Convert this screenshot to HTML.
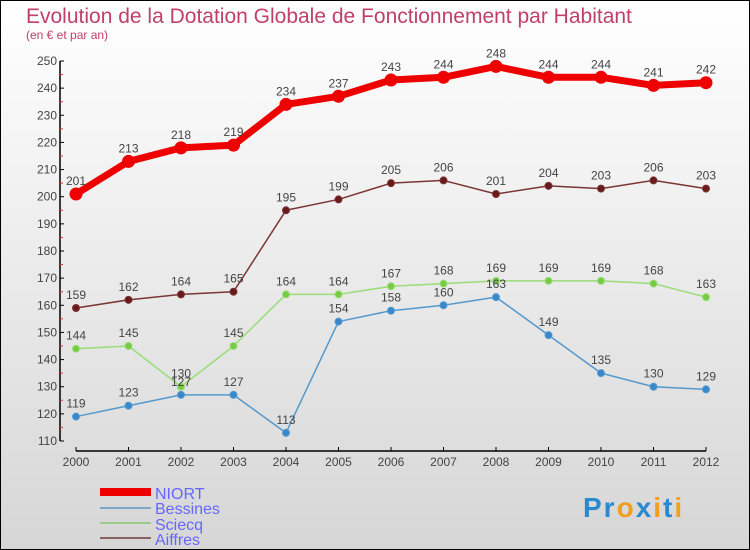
<!DOCTYPE html>
<html><head><meta charset="utf-8"><style>
body{margin:0}
#c{width:750px;height:550px;position:relative;overflow:hidden;background:linear-gradient(#ffffff,#d6d6d6);box-sizing:border-box;border:1px solid #000;font-family:"Liberation Sans",sans-serif}
</style></head><body>
<div id="c">
<svg width="750" height="550" style="position:absolute;left:-1px;top:-1px" id="svg">
<text x="26" y="23" font-size="21" fill="#c0406a">Evolution de la Dotation Globale de Fonctionnement par Habitant</text>
<text x="26" y="39" font-size="12" fill="#c0406a">(en € et par an)</text>
<g id="axes"></g><g id="series"></g>
<g>
<rect x="100" y="488" width="51" height="8" fill="#ee0000"/>
<text x="155" y="499" font-size="16" fill="#6666ff">NIORT</text>
<rect x="100" y="507" width="51" height="2" fill="#7fa7c7"/>
<text x="155" y="514" font-size="16" fill="#6666ff">Bessines</text>
<rect x="100" y="522" width="51" height="2" fill="#99cc88"/>
<text x="155" y="530" font-size="16" fill="#6666ff">Sciecq</text>
<rect x="100" y="537" width="51" height="2" fill="#8b6060"/>
<text x="155" y="545" font-size="16" fill="#6666ff">Aiffres</text>
</g>
<text x="583" y="517" font-size="28" font-weight="bold" letter-spacing="2"><tspan fill="#2a8ad0">Pr</tspan><tspan fill="#f0a020">o</tspan><tspan fill="#2a8ad0">x</tspan><tspan fill="#f0a020">i</tspan><tspan fill="#2a8ad0">t</tspan><tspan fill="#f0a020">i</tspan></text>
</svg>
</div>
<script>
const years=[2000,2001,2002,2003,2004,2005,2006,2007,2008,2009,2010,2011,2012];
const yTicks=[110,120,130,140,150,160,170,180,190,200,210,220,230,240,250];
const niort=[201,213,218,219,234,237,243,244,248,244,244,241,242];
const bessines=[119,123,127,127,113,154,158,160,163,149,135,130,129];
const sciecq=[144,145,130,145,164,164,167,168,169,169,169,168,163];
const aiffres=[159,162,164,165,195,199,205,206,201,204,203,206,203];
const NS="http://www.w3.org/2000/svg";
function X(i){return 76+i*52.5;}
function Y(v){return 441-(v-110)*380/140;}
function mk(t,a,p){const e=document.createElementNS(NS,t);for(const k in a)e.setAttribute(k,a[k]);p.appendChild(e);return e;}
const ax=document.getElementById('axes');
const ya=mk('line',{x1:60,y1:Y(250),x2:60,y2:Y(110),stroke:'#000','stroke-width':1.5},ax);


const xa=mk('line',{x1:X(0),y1:451,x2:X(12),y2:451,stroke:'#000','stroke-width':1.5},ax);


yTicks.forEach(v=>{
 mk('line',{x1:60,y1:Y(v),x2:64,y2:Y(v),stroke:'#000'},ax);
 if(v<250)mk('line',{x1:60,y1:Y(v+5),x2:63,y2:Y(v+5),stroke:'#e03030'},ax);
 const t=mk('text',{x:57,y:Y(v)+4,'font-size':12,fill:'#444','text-anchor':'end'},ax);t.textContent=v;
 
 
});
years.forEach((y,i)=>{
 mk('line',{x1:X(i),y1:447,x2:X(i),y2:451,stroke:'#000'},ax);
 const t=mk('text',{x:X(i),y:466,'font-size':12,fill:'#444','text-anchor':'middle'},ax);t.textContent=y;
 
 
});
const sg=document.getElementById('series');
function series(d,name,color,fill,w,r){
 const g=mk('g',{},sg);
 
 
 mk('polyline',{points:d.map((v,i)=>X(i)+','+Y(v)).join(' '),fill:'none',stroke:color,'stroke-width':w,'stroke-linejoin':'round'},g);
 d.forEach((v,i)=>{
  const c=mk('circle',{cx:X(i),cy:Y(v),r:r,fill:fill,stroke:color,'stroke-width':1},g);
  
  
  const t=mk('text',{x:X(i),y:Y(v)-9,'font-size':12,fill:'#444','text-anchor':'middle'},g);t.textContent=v;
  
  
 });
}
series(aiffres,'aiffres','#7a3535','#6a1a1a',1.5,3.5);
series(sciecq,'sciecq','#99dd77','#77cc44',1.5,3.5);
series(bessines,'bessines','#5599cc','#3a88cc',1.5,3.5);
series(niort,'niort','#ee0000','#ee0000',7,6);
</script>
</body></html>
